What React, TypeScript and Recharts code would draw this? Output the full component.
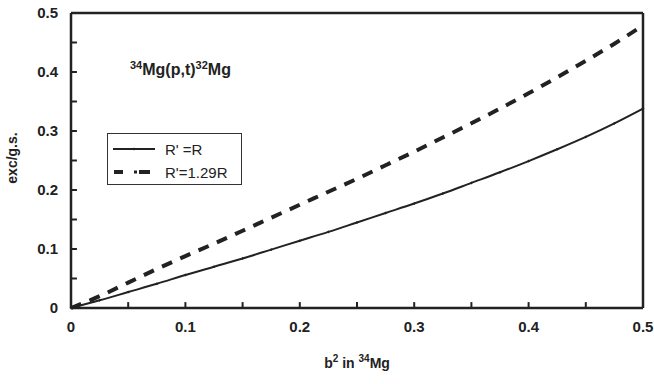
import React from 'react';
import { LineChart, Line, XAxis, YAxis, ReferenceLine } from 'recharts';

const B2 = [0, 0.025, 0.05, 0.075, 0.1, 0.125, 0.15, 0.175, 0.2, 0.225, 0.25, 0.275, 0.3, 0.325, 0.35, 0.375, 0.4, 0.425, 0.45, 0.475, 0.5];
const R_SAME = [0, 0.013, 0.027, 0.041, 0.056, 0.07, 0.084, 0.099, 0.114, 0.129, 0.145, 0.161, 0.177, 0.194, 0.212, 0.23, 0.249, 0.269, 0.29, 0.313, 0.338];
const R_129 = [0, 0.02, 0.043, 0.066, 0.088, 0.109, 0.131, 0.153, 0.175, 0.197, 0.219, 0.242, 0.265, 0.289, 0.313, 0.338, 0.364, 0.391, 0.419, 0.448, 0.479];
const TICKS = [0, 0.05, 0.1, 0.15, 0.2, 0.25, 0.3, 0.35, 0.4, 0.45, 0.5];

const data = B2.map((b, i) => ({ b, r1: R_SAME[i], r2: R_129[i] }));

const FONT = 'Arial, "Liberation Sans", Helvetica, sans-serif';
const INK = '#222';
// inward tick length in data units (about 6px on each axis)
const X_TICK_LEN = 0.01;
const Y_TICK_LEN = 0.0052;

const fmt = (v: number) => (v === 0 ? '0' : String(Math.round(v * 10) / 10));
const isMajor = (v: number) => Math.abs(v * 10 - Math.round(v * 10)) < 1e-6;

const XTick = (props: any) => {
    const { x, y, payload } = props;
    const v = payload.value;
    if (!isMajor(v)) return <g />;
    return (
        <text x={x} y={y + 24} textAnchor="middle" fontFamily={FONT} fontWeight="bold" fontSize={15} fill={INK}>
            {fmt(v)}
        </text>
    );
};

const YTick = (props: any) => {
    const { x, y, payload } = props;
    const v = payload.value;
    if (!isMajor(v)) return <g />;
    return (
        <text x={x - 13} y={y + 5} textAnchor="end" fontFamily={FONT} fontWeight="bold" fontSize={15} fill={INK}>
            {fmt(v)}
        </text>
    );
};

const LegendBox = () => (
    <div
        style={{
            position: 'absolute',
            left: 107,
            top: 133,
            width: 135,
            height: 52,
            border: '1px solid #333',
            background: '#fff',
            fontFamily: FONT,
            fontSize: 15,
            color: INK,
            boxSizing: 'border-box',
        }}
    >
        <div style={{ display: 'flex', alignItems: 'center', height: 24, marginTop: 3 }}>
            <svg width={46} height={10} style={{ marginLeft: 3 }}>
                <line x1={2} x2={44} y1={5} y2={5} stroke={INK} strokeWidth={2} />
                <circle cx={23} cy={5} r={1.2} fill={INK} />
            </svg>
            <span style={{ marginLeft: 8 }}>R' =R</span>
        </div>
        <div style={{ display: 'flex', alignItems: 'center', height: 22 }}>
            <svg width={46} height={10} style={{ marginLeft: 3 }}>
                <line x1={3} x2={12} y1={5} y2={5} stroke={INK} strokeWidth={4} />
                <line x1={23} x2={26} y1={5} y2={5} stroke={INK} strokeWidth={3} />
                <line x1={28} x2={39} y1={5} y2={5} stroke={INK} strokeWidth={4} />
            </svg>
            <span style={{ marginLeft: 8 }}>R'=1.29R</span>
        </div>
    </div>
);

export default function App() {
    return (
        <div style={{ position: 'absolute', left: 0, top: 0, width: 654, height: 384, background: '#fff' }}>
            <LineChart width={654} height={384} data={data} margin={{ top: 13, right: 11, left: 0, bottom: 0 }}>
                <XAxis
                    dataKey="b"
                    type="number"
                    domain={[0, 0.5]}
                    ticks={TICKS}
                    tick={<XTick />}
                    tickLine={false}
                    tickSize={0}
                    tickMargin={0}
                    height={76}
                    axisLine={{ stroke: INK, strokeWidth: 2.5 }}
                    interval={0}
                />
                <YAxis
                    type="number"
                    domain={[0, 0.5]}
                    ticks={TICKS}
                    tick={<YTick />}
                    tickLine={false}
                    tickSize={0}
                    tickMargin={0}
                    width={71}
                    axisLine={{ stroke: INK, strokeWidth: 2.5 }}
                    interval={0}
                />
                <ReferenceLine y={0.5} stroke={INK} strokeWidth={2.5} />
                <ReferenceLine x={0.5} stroke={INK} strokeWidth={2.5} />
                {TICKS.slice(1, -1).map((t) => (
                    <ReferenceLine
                        key={'xt' + t}
                        segment={[{ x: t, y: 0 }, { x: t, y: X_TICK_LEN }]}
                        stroke={INK}
                        strokeWidth={2}
                    />
                ))}
                {TICKS.slice(1, -1).map((t) => (
                    <ReferenceLine
                        key={'yt' + t}
                        segment={[{ x: 0, y: t }, { x: Y_TICK_LEN, y: t }]}
                        stroke={INK}
                        strokeWidth={2}
                    />
                ))}
                <Line
                    dataKey="r1"
                    type="monotone"
                    stroke={INK}
                    strokeWidth={2}
                    dot={{ r: 0.8, fill: INK, stroke: INK, strokeWidth: 1 }}
                    isAnimationActive={false}
                />
                <Line
                    dataKey="r2"
                    type="monotone"
                    stroke={INK}
                    strokeWidth={4}
                    strokeDasharray="11 9"
                    dot={false}
                    isAnimationActive={false}
                />
            </LineChart>
            <LegendBox />
            <div
                style={{
                    position: 'absolute',
                    left: 130,
                    top: 59,
                    fontFamily: FONT,
                    fontWeight: 'bold',
                    fontSize: 16,
                    color: INK,
                    whiteSpace: 'nowrap',
                }}
            >
                <sup style={{ fontSize: 11 }}>34</sup>Mg(p,t)<sup style={{ fontSize: 11 }}>32</sup>Mg
            </div>
            <div
                style={{
                    position: 'absolute',
                    left: 287,
                    top: 353,
                    width: 140,
                    textAlign: 'center',
                    fontFamily: FONT,
                    fontWeight: 'bold',
                    fontSize: 14,
                    color: INK,
                    whiteSpace: 'nowrap',
                }}
            >
                b<sup style={{ fontSize: 10 }}>2</sup> in <sup style={{ fontSize: 10 }}>34</sup>Mg
            </div>
            <div
                style={{
                    position: 'absolute',
                    left: 12,
                    top: 158,
                    transform: 'translate(-50%, -50%) rotate(-90deg)',
                    fontFamily: FONT,
                    fontWeight: 'bold',
                    fontSize: 14,
                    color: INK,
                    whiteSpace: 'nowrap',
                }}
            >
                exc/g.s.
            </div>
        </div>
    );
}
